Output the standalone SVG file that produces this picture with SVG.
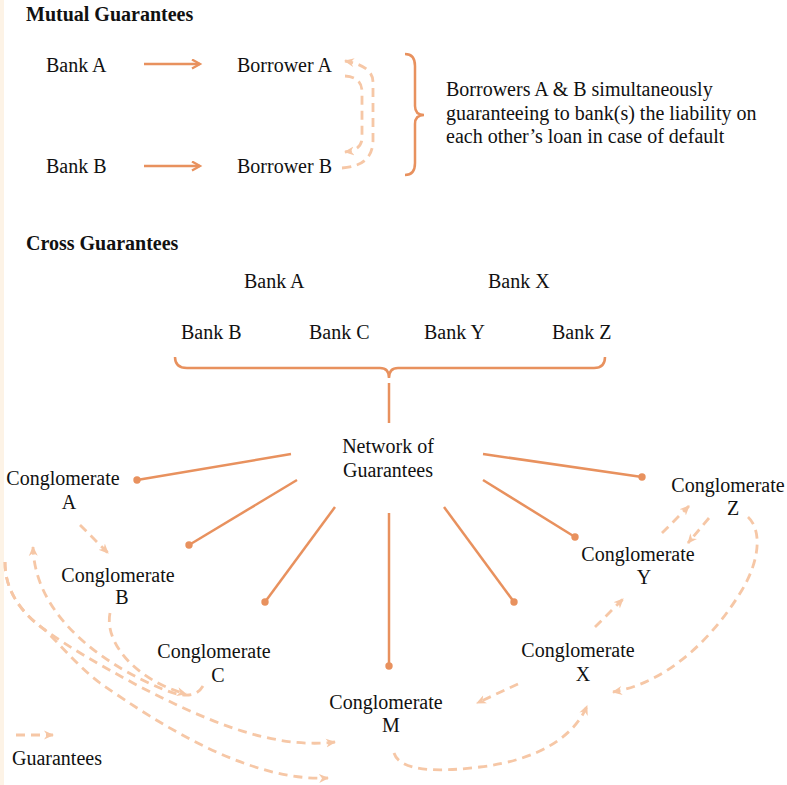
<svg xmlns="http://www.w3.org/2000/svg" width="787" height="785" viewBox="0 0 787 785">
<style>
text{font-family:"Liberation Serif","Times New Roman",serif;font-size:20px;fill:#111}
.t{font-weight:bold}
.c{text-anchor:middle}
.s{fill:none;stroke:#e8915e;stroke-width:2.5}
.d{fill:none;stroke:#f6c7a6;stroke-width:2.8;stroke-dasharray:9 6}
.dot{fill:#e8915e}
</style>
<defs>
<marker id="ah" markerUnits="userSpaceOnUse" markerWidth="12" markerHeight="12" refX="9" refY="5" orient="auto">
<path d="M1,0.5 L9,5 L1,9.5" fill="none" stroke="#e8915e" stroke-width="2.3"/>
</marker>
<marker id="dh" markerUnits="userSpaceOnUse" markerWidth="12" markerHeight="12" refX="9" refY="5" orient="auto">
<path d="M0,0.5 L10,5 L0,9.5 L3,5 z" fill="#f6c7a6"/>
</marker>
</defs>
<rect x="0" y="0" width="787" height="785" fill="#fff"/>
<rect x="0" y="0" width="4" height="785" fill="#fdf3e6"/>

<text class="t" x="26" y="21">Mutual Guarantees</text>
<text class="t" x="26" y="250">Cross Guarantees</text>

<g id="bankA1"><text x="46" y="72">Bank A</text></g>
<g id="bankB1"><text x="46" y="173">Bank B</text></g>
<g id="borrowerA"><text x="237" y="72">Borrower A</text></g>
<g id="borrowerB"><text x="237" y="173">Borrower B</text></g>
<g id="mutualNote">
<path class="s" d="M405,54 Q415,54 415,66 L415,106 Q415,115 424,115 Q415,115 415,124 L415,163 Q415,175 405,175"/>
<text x="446" y="96">Borrowers A &amp; B simultaneously</text>
<text x="446" y="120">guaranteeing to bank(s) the liability on</text>
<text x="446" y="143">each other’s loan in case of default</text>
</g>

<g id="banks">
<text x="244" y="288">Bank A</text>
<text x="488" y="288">Bank X</text>
<text x="181" y="339">Bank B</text>
<text x="309" y="339">Bank C</text>
<text x="424" y="339">Bank Y</text>
<text x="552" y="339">Bank Z</text>
<path class="s" d="M175,357 Q175,368 187,368 L380,368 Q389,368 389,378 Q389,368 398,368 L594,368 Q605,368 605,357"/>
</g>
<g id="network"><text class="c" x="388" y="453">Network of</text><text class="c" x="388" y="477">Guarantees</text></g>
<g id="cA"><text class="c" x="63" y="485">Conglomerate</text><text class="c" x="69" y="509">A</text></g>
<g id="cB"><text class="c" x="118" y="582">Conglomerate</text><text class="c" x="122" y="604">B</text></g>
<g id="cC"><text class="c" x="214" y="658">Conglomerate</text><text class="c" x="218" y="682">C</text></g>
<g id="cM"><text class="c" x="386" y="709">Conglomerate</text><text class="c" x="391" y="732">M</text></g>
<g id="cX"><text class="c" x="578" y="657">Conglomerate</text><text class="c" x="583" y="681">X</text></g>
<g id="cY"><text class="c" x="638" y="561">Conglomerate</text><text class="c" x="644" y="584">Y</text></g>
<g id="cZ"><text class="c" x="728" y="492">Conglomerate</text><text class="c" x="733" y="515">Z</text></g>
<g id="legend">
<path class="d" d="M16,735 L53,735" marker-end="url(#dh)"/>
<text x="12" y="765">Guarantees</text>
</g>

<g id="connectors">
<path class="s" d="M144,64 L200,64" marker-end="url(#ah)"/>
<path class="s" d="M144,166 L200,166" marker-end="url(#ah)"/>
<path class="d" d="M342,168 Q373,166 373,140 L373,82 Q373,66 345,61" marker-end="url(#dh)"/>
<path class="d" d="M345,76 Q362,77 362,92 L362,138 Q362,150 345,152" marker-end="url(#dh)"/>

<path class="s" d="M389,383 L389,423"/>
<path class="s" d="M291,454 L137,480"/><circle class="dot" cx="137" cy="480" r="3.7"/>
<path class="s" d="M297,480 L189,545"/><circle class="dot" cx="189" cy="545" r="3.7"/>
<path class="s" d="M335,507 L265,602"/><circle class="dot" cx="265" cy="602" r="3.7"/>
<path class="s" d="M389,513 L389,666"/><circle class="dot" cx="389" cy="666" r="3.7"/>
<path class="s" d="M444,507 L514,602"/><circle class="dot" cx="514" cy="602" r="3.7"/>
<path class="s" d="M483,480 L575,537"/><circle class="dot" cx="575" cy="537" r="3.7"/>
<path class="s" d="M483,454 L642,477"/><circle class="dot" cx="642" cy="477" r="3.7"/>

<path class="d" d="M80,525 L108,553" marker-end="url(#dh)"/>
<path class="d" d="M110,613 C104,642 135,680 186,694" marker-end="url(#dh)"/>
<path class="d" d="M203,686 C196,698 182,697 165,690 C110,668 35,620 33,547" marker-end="url(#dh)"/>
<path class="d" d="M5,562 C5,590 20,612 45,630 C70,648 100,665 133,683 C200,718 270,750 335,742" marker-end="url(#dh)"/>
<path class="d" d="M5,562 C5,590 20,612 45,630 C65,650 80,668 100,683 C160,725 250,782 328,778" marker-end="url(#dh)"/>

<path class="d" d="M662,533 L689,506" marker-end="url(#dh)"/>
<path class="d" d="M709,518 L688,543" marker-end="url(#dh)"/>
<path class="d" d="M595,627 L623,599" marker-end="url(#dh)"/>
<path class="d" d="M518,684 L477,703" marker-end="url(#dh)"/>
<path class="d" d="M748,517 C762,530 760,560 742,590 C715,635 670,682 613,692" marker-end="url(#dh)"/>
<path class="d" d="M394,753 C400,772 440,772 480,767 C540,760 575,735 587,706" marker-end="url(#dh)"/>
</g>
</svg>
